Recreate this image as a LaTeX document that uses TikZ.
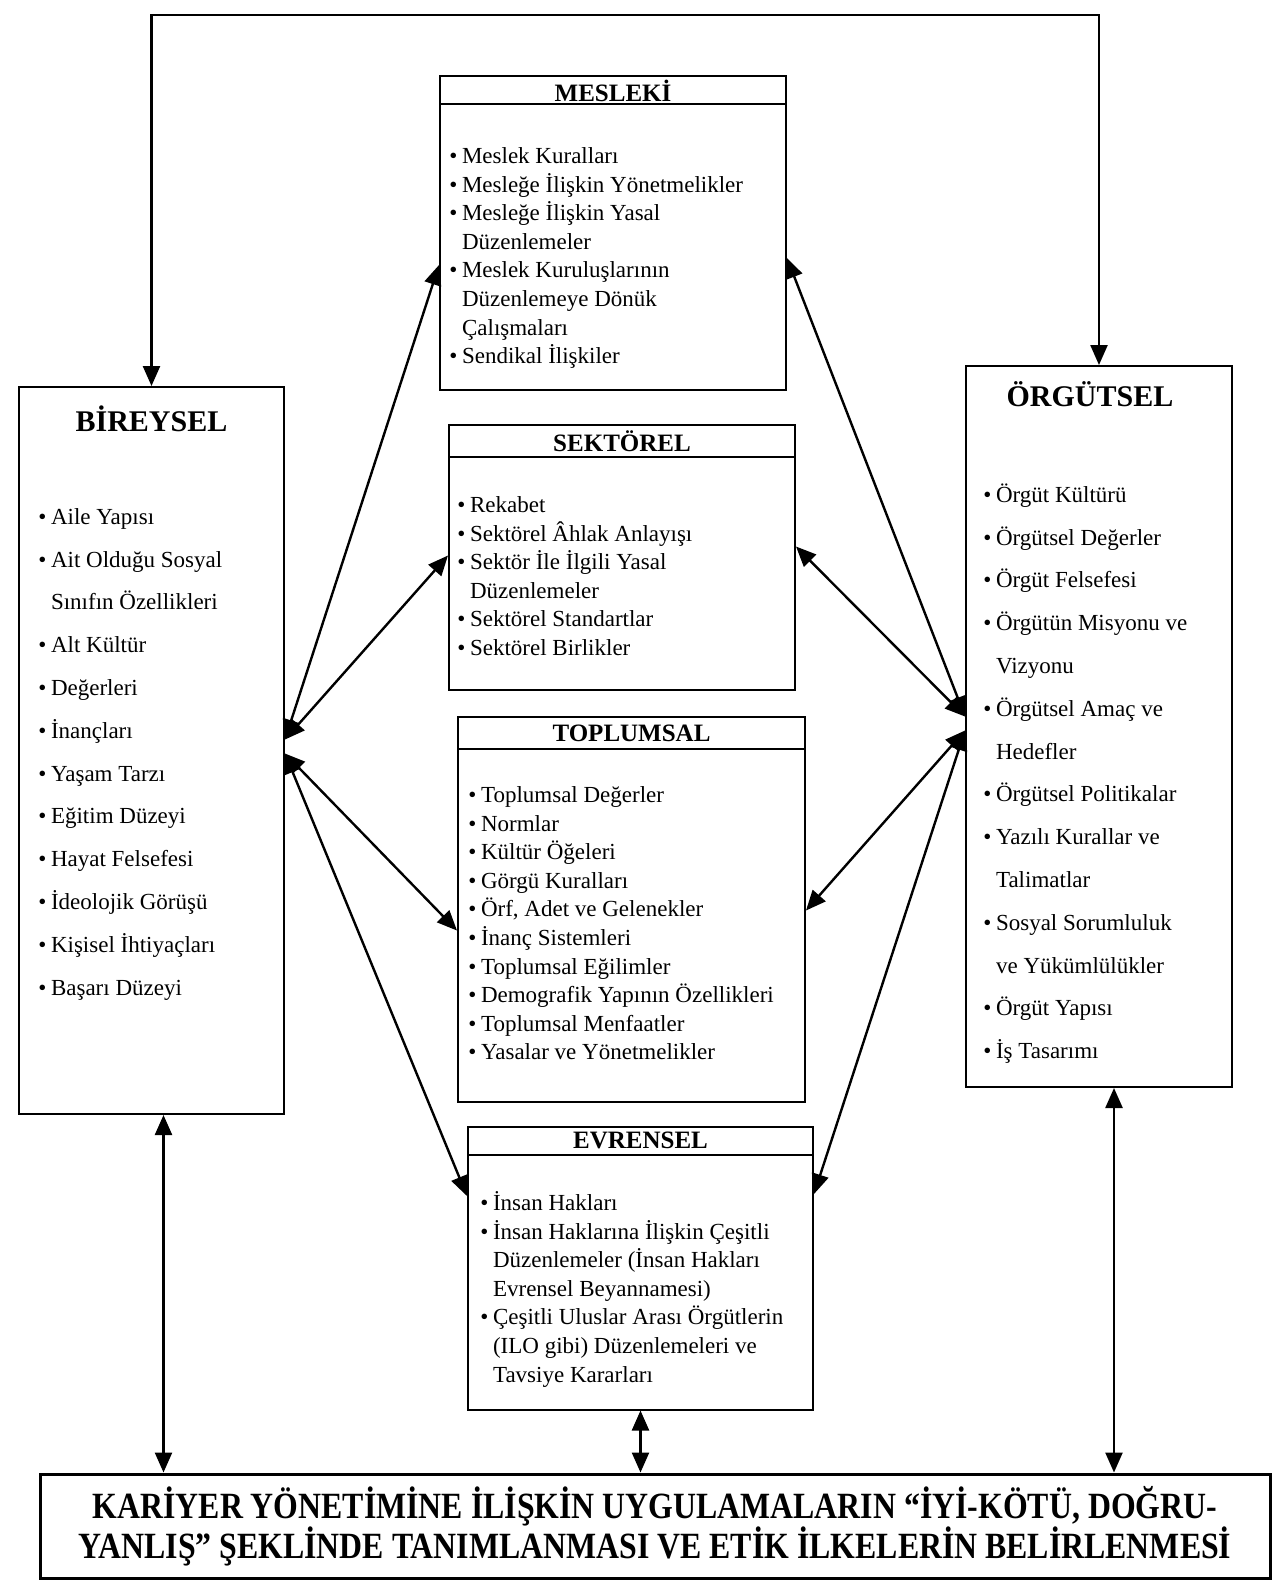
\documentclass[tikz,border=0pt]{standalone}
\usepackage{fontspec}
\setmainfont{Liberation Serif}
\newfontfamily\sarfont[FakeStretch=0.86]{Liberation Serif}
\usetikzlibrary{arrows.meta,calc}

\newcommand{\bul}{\textbullet\hspace{0.2em}}
\newcommand{\ind}{\hphantom{\textbullet\hspace{0.2em}}}

\tikzset{
  box/.style={draw, line width=1pt, inner sep=0pt},
  ttl/.style={font=\bfseries\fontsize{12.5}{14}\selectfont},
  bigttl/.style={font=\bfseries\fontsize{15}{18}\selectfont},
  lst/.style={anchor=north west, inner sep=0pt, align=left, font=\fontsize{11.5}{14.3}\selectfont},
  widelst/.style={lst, font=\fontsize{11.5}{21.4}\selectfont},
  dbl/.style={{Triangle[length=10pt,width=8.5pt]}-{Triangle[length=10pt,width=8.5pt]}, line width=1.2pt},
}

\begin{document}
\begin{tikzpicture}[x=0.5pt, y=-0.5pt]
\useasboundingbox (0,0) rectangle (1288,1587);

% boxes
\node[box, minimum width=132.5pt, minimum height=363.5pt] (bir) at (151.5,750.5) {};
\node[box, minimum width=133pt, minimum height=360.5pt] (org) at (1099,726.5) {};
\node[box, minimum width=173pt, minimum height=157pt] (mes) at (613,233) {};
\node[box, minimum width=173pt, minimum height=132.5pt] (sek) at (622,557.5) {};
\node[box, minimum width=173.5pt, minimum height=192.5pt] (tpl) at (631.5,909.5) {};
\node[box, minimum width=172.5pt, minimum height=141.5pt] (evr) at (640.5,1268) {};
\node[box, line width=1.5pt, minimum width=615pt, minimum height=52pt, align=center,
      font=\sarfont\bfseries\fontsize{18.5}{20}\selectfont] (sonuc) at (655,1526)
  {KARİYER YÖNETİMİNE İLİŞKİN UYGULAMALARIN “İYİ-KÖTÜ, DOĞRU-\\
   YANLIŞ” ŞEKLİNDE TANIMLANMASI VE ETİK İLKELERİN BELİRLENMESİ};

% header lines
\draw[line width=1pt] ($(mes.north west)+(0,29)$) -- ($(mes.north east)+(0,29)$);
\draw[line width=1pt] ($(sek.north west)+(0,33)$) -- ($(sek.north east)+(0,33)$);
\draw[line width=1pt] ($(tpl.north west)+(0,33)$) -- ($(tpl.north east)+(0,33)$);
\draw[line width=1pt] ($(evr.north west)+(0,29)$) -- ($(evr.north east)+(0,29)$);

% titles
\node[bigttl] (birT) at ($(bir.north)+(0,33)$) {BİREYSEL};
\node[bigttl] (orgT) at ($(org.north)+(-9,29)$) {ÖRGÜTSEL};
\node[ttl] (mesT) at ($(mes.north)+(0,16)$) {MESLEKİ};
\node[ttl] (sekT) at ($(sek.north)+(0,17)$) {SEKTÖREL};
\node[ttl] (tplT) at ($(tpl.north)+(0,17)$) {TOPLUMSAL};
\node[ttl] (evrT) at ($(evr.north)+(0,15)$) {EVRENSEL};

% lists
\node[widelst] (birL) at (38,494) {\strut\bul Aile Yapısı\\
  \bul Ait Olduğu Sosyal\\ \ind Sınıfın Özellikleri\\
  \bul Alt Kültür\\ \bul Değerleri\\ \bul İnançları\\
  \bul Yaşam Tarzı\\ \bul Eğitim Düzeyi\\ \bul Hayat Felsefesi\\
  \bul İdeolojik Görüşü\\ \bul Kişisel İhtiyaçları\\ \bul Başarı Düzeyi};
\node[widelst] (orgL) at (983,472) {\strut\bul Örgüt Kültürü\\
  \bul Örgütsel Değerler\\ \bul Örgüt Felsefesi\\
  \bul Örgütün Misyonu ve\\ \ind Vizyonu\\
  \bul Örgütsel Amaç ve\\ \ind Hedefler\\
  \bul Örgütsel Politikalar\\
  \bul Yazılı Kurallar ve\\ \ind Talimatlar\\
  \bul Sosyal Sorumluluk\\ \ind ve Yükümlülükler\\
  \bul Örgüt Yapısı\\ \bul İş Tasarımı};
\node[lst] (mesL) at (449,143) {\strut\bul Meslek Kuralları\\
  \bul Mesleğe İlişkin Yönetmelikler\\
  \bul Mesleğe İlişkin Yasal\\ \ind Düzenlemeler\\
  \bul Meslek Kuruluşlarının\\ \ind Düzenlemeye Dönük\\ \ind Çalışmaları\\
  \bul Sendikal İlişkiler};
\node[lst] (sekL) at (457,492) {\strut\bul Rekabet\\
  \bul Sektörel Âhlak Anlayışı\\
  \bul Sektör İle İlgili Yasal\\ \ind Düzenlemeler\\
  \bul Sektörel Standartlar\\ \bul Sektörel Birlikler};
\node[lst] (tplL) at (468,782) {\strut\bul Toplumsal Değerler\\
  \bul Normlar\\ \bul Kültür Öğeleri\\ \bul Görgü Kuralları\\
  \bul Örf, Adet ve Gelenekler\\ \bul İnanç Sistemleri\\
  \bul Toplumsal Eğilimler\\ \bul Demografik Yapının Özellikleri\\
  \bul Toplumsal Menfaatler\\ \bul Yasalar ve Yönetmelikler};
\node[lst] (evrL) at (480,1190) {\strut\bul İnsan Hakları\\
  \bul İnsan Haklarına İlişkin Çeşitli\\ \ind Düzenlemeler (İnsan Hakları\\
  \ind Evrensel Beyannamesi)\\
  \bul Çeşitli Uluslar Arası Örgütlerin\\ \ind (ILO gibi) Düzenlemeleri ve\\
  \ind Tavsiye Kararları};

% arrow ends
\coordinate (lA) at ($(bir.east)+(0,-11)$);
\coordinate (lB) at ($(bir.east)+(0,3)$);
\coordinate (rA) at ($(org.west)+(0,-10)$);
\coordinate (rB) at ($(org.west)+(0,4)$);
\coordinate (bA) at ($(bir.south)+(12,0)$);
\coordinate (oA) at ($(org.south)+(15,0)$);

\draw[dbl] (lA) -- ($(mes.west)+(0,32)$);
\draw[dbl] (lA) -- ($(sek.west)+(0,-2)$);
\draw[dbl] (lB) -- ($(tpl.west)+(0,21)$);
\draw[dbl] (lB) -- ($(evr.west)+(0,-72)$);
\draw[dbl] (rA) -- ($(mes.east)+(0,25)$);
\draw[dbl] (rA) -- ($(sek.east)+(0,-11)$);
\draw[dbl] (rB) -- ($(tpl.east)+(0,1)$);
\draw[dbl] (rB) -- ($(evr.east)+(0,-74)$);

\draw[dbl] (bir.north) -- ++(0,-371) -| (org.north);
\draw[dbl] (bA) -- (bA |- sonuc.north);
\draw[dbl] (evr.south) -- (evr.south |- sonuc.north);
\draw[dbl] (oA) -- (oA |- sonuc.north);
\end{tikzpicture}
\end{document}
